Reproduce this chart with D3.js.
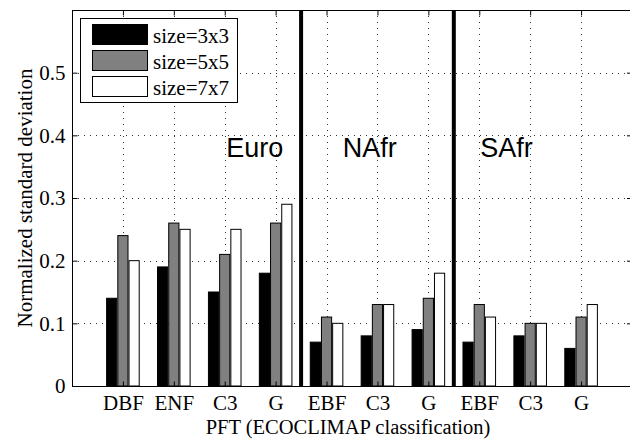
<!DOCTYPE html>
<html>
<head>
<meta charset="utf-8">
<script src="https://cdn.jsdelivr.net/npm/d3@7"></script>
<style>
  html, body { margin: 0; padding: 0; background: #fff; overflow: hidden; }
  svg { display: block; }
</style>
</head>
<body>
<svg id="chart" width="630" height="439"></svg>
<script>
// ---- data ----
const categories = ["DBF", "ENF", "C3", "G", "EBF", "C3", "G", "EBF", "C3", "G"];
const seriesNames = ["size=3x3", "size=5x5", "size=7x7"];
const size3x3 = [0.14, 0.19, 0.15, 0.18, 0.07, 0.08, 0.09, 0.07, 0.08, 0.06];
const size5x5 = [0.24, 0.26, 0.21, 0.26, 0.11, 0.13, 0.14, 0.13, 0.10, 0.11];
const size7x7 = [0.20, 0.25, 0.25, 0.29, 0.10, 0.13, 0.18, 0.11, 0.10, 0.13];
const regions = ["Euro", "NAfr", "SAfr"];
const regionStart = [0, 4, 7];      // index of first category of each region
const yTickValues = [0, 0.1, 0.2, 0.3, 0.4, 0.5];

// ---- layout ----
const W = 630, H = 439;
const mLeft = 72, mTop = 10, mRight = 632, mBottom = 386;
const serif = "'Liberation Serif', 'Times New Roman', serif";
const sans = "'Liberation Sans', Arial, Helvetica, sans-serif";
const fills = ["#000000", "#808080", "#ffffff"];

const svg = d3.select("#chart");
svg.append("rect").attr("width", W).attr("height", H).attr("fill", "#fff");

const x = d3.scaleLinear().domain([0, categories.length + 1]).range([mLeft, mRight]);
const y = d3.scaleLinear().domain([0, 0.6]).range([mBottom, mTop]);

const positions = categories.map((c, i) => i + 1);

// grid
const grid = svg.append("g").attr("stroke", "#333").attr("stroke-width", 1)
  .attr("stroke-dasharray", "1,5").attr("fill", "none");
yTickValues.filter(v => v > 0).forEach(v => {
  grid.append("line").attr("x1", mLeft).attr("x2", mRight)
    .attr("y1", Math.round(y(v)) + 0.5).attr("y2", Math.round(y(v)) + 0.5);
});
positions.forEach(p => {
  grid.append("line").attr("y1", mTop).attr("y2", mBottom)
    .attr("x1", Math.round(x(p)) + 0.5).attr("x2", Math.round(x(p)) + 0.5);
});

// bars
const series = [size3x3, size5x5, size7x7];
const barW = 0.2, barOff = 0.22;
series.forEach((vals, s) => {
  svg.append("g").selectAll("rect").data(vals).join("rect")
    .attr("x", (d, i) => x(positions[i] + (s - 1) * barOff - barW / 2))
    .attr("width", x(barW) - x(0))
    .attr("y", d => y(d))
    .attr("height", d => y(0) - y(d))
    .attr("fill", fills[s])
    .attr("stroke", "#000")
    .attr("stroke-width", 1);
});

// region separators
regionStart.slice(1).forEach(st => {
  svg.append("line")
    .attr("x1", x(st + 0.5)).attr("x2", x(st + 0.5))
    .attr("y1", mTop).attr("y2", mBottom)
    .attr("stroke", "#000").attr("stroke-width", 4);
});

// frame
svg.append("rect").attr("x", mLeft + 0.5).attr("y", mTop + 0.5)
  .attr("width", mRight - mLeft).attr("height", mBottom - mTop)
  .attr("fill", "none").attr("stroke", "#000").attr("stroke-width", 1);

// axes with inward ticks
const yAxis = d3.axisLeft(y).tickValues(yTickValues).tickSize(-5).tickPadding(7)
  .tickFormat(d => d === 0 ? "0" : d3.format(".1f")(d));
const gy = svg.append("g").attr("transform", `translate(${mLeft + 0.5},0)`).call(yAxis);
gy.select(".domain").remove();
gy.selectAll("text").attr("font-family", serif).attr("font-size", 21).attr("fill", "#000");
gy.selectAll("line").attr("stroke", "#000");

const yAxisR = d3.axisRight(y).tickValues(yTickValues).tickSize(-5).tickFormat("");
const gyr = svg.append("g").attr("transform", `translate(${mRight},0)`).call(yAxisR);
gyr.select(".domain").remove();

const xAxis = d3.axisBottom(x).tickValues(positions).tickSize(-5).tickPadding(9)
  .tickFormat((d, i) => categories[i]);
const gx = svg.append("g").attr("transform", `translate(0,${mBottom + 0.5})`).call(xAxis);
gx.select(".domain").remove();
gx.selectAll("text").attr("font-family", serif).attr("font-size", 21).attr("fill", "#000");
gx.selectAll("line").attr("stroke", "#000");

const xAxisT = d3.axisTop(x).tickValues(positions).tickSize(-5).tickFormat("");
const gxt = svg.append("g").attr("transform", `translate(0,${mTop + 0.5})`).call(xAxisT);
gxt.select(".domain").remove();

// axis titles
svg.append("text").attr("x", x(5.5) - 4).attr("y", 434)
  .attr("text-anchor", "middle").attr("font-family", serif).attr("font-size", 20.5)
  .text("PFT (ECOCLIMAP classification)");
svg.append("text").attr("transform", `translate(32,${(mTop + mBottom) / 2}) rotate(-90)`)
  .attr("text-anchor", "middle").attr("font-family", serif).attr("font-size", 21)
  .text("Normalized standard deviation");

// region labels
const regionLabelY = 0.365;
const regionLabelOffset = [3.03, 1.32, 1.02];
regions.forEach((r, i) => {
  svg.append("text")
    .attr("x", x(regionStart[i] + regionLabelOffset[i]))
    .attr("y", y(regionLabelY))
    .attr("font-family", sans).attr("font-size", 27).attr("fill", "#000")
    .text(r);
});

// legend
const lg = svg.append("g");
lg.append("rect").attr("x", 80.5).attr("y", 18.5).attr("width", 157).attr("height", 84)
  .attr("fill", "#fff").attr("stroke", "#000").attr("stroke-width", 1);
seriesNames.forEach((n, i) => {
  lg.append("rect").attr("x", 92.5).attr("y", 24.5 + i * 26).attr("width", 55).attr("height", 20)
    .attr("fill", fills[i]).attr("stroke", "#000").attr("stroke-width", 1);
  lg.append("text").attr("x", 153).attr("y", 43 + i * 26)
    .attr("font-family", serif).attr("font-size", 21).text(n);
});
</script>
</body>
</html>
